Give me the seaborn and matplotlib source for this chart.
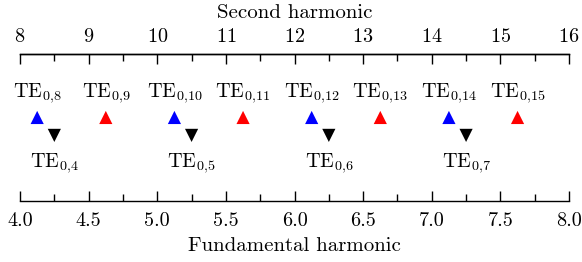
import matplotlib as mpl
import seaborn as sns
import pandas as pd
import numpy as np
plt = mpl.pyplot

# mode positions on the fundamental-harmonic scale
blue_f = [4.125, 5.125, 6.125, 7.125]
blue_lab = ['8', '10', '12', '14']
red_f = [4.625, 5.625, 6.625, 7.625]
red_lab = ['9', '11', '13', '15']
black_f = [4.25, 5.25, 6.25, 7.25]
black_lab = ['4', '5', '6', '7']

UP_Y = 0.568
DOWN_Y = 0.446

sns.set_style('white')
mpl.rcParams['font.family'] = 'cmr10'
mpl.rcParams['mathtext.fontset'] = 'cm'
mpl.rcParams['axes.formatter.use_mathtext'] = True
mpl.rcParams['font.size'] = 14
for k in ['text.color', 'axes.labelcolor', 'xtick.color', 'ytick.color', 'axes.edgecolor']:
    mpl.rcParams[k] = 'black'

df = pd.DataFrame({
    'f': blue_f + red_f + black_f,
    'y': [UP_Y] * 8 + [DOWN_Y] * 4,
    'grp': ['b'] * 4 + ['r'] * 4 + ['k'] * 4,
})

fig = plt.figure(figsize=(5.82, 2.62), dpi=100)
ax = fig.add_axes([0.0344, 0.233, 0.9433, 0.561])
sns.scatterplot(data=df, x='f', y='y', hue='grp', style='grp',
                palette={'b': '#0000ff', 'r': '#ff0000', 'k': '#000000'},
                markers={'b': '^', 'r': '^', 'k': 'v'},
                s=90, linewidth=0, legend=False, ax=ax)

for x, l in zip(blue_f + red_f, blue_lab + red_lab):
    ax.text(x, 0.707, r'$\mathrm{TE}_{0{,}%s}$' % l, ha='center', va='baseline', fontsize=14.5)
for x, l in zip(black_f, black_lab):
    ax.text(x, 0.231, r'$\mathrm{TE}_{0{,}%s}$' % l, ha='center', va='baseline', fontsize=14.5)

ax.set_xlim(4, 8)
ax.set_ylim(0, 1)
ax.set_yticks([])
ax.set_ylabel('')
ax.set_xlabel('Fundamental harmonic', labelpad=5, fontsize=15)
ax.set_xticks(np.arange(4, 8.01, 0.5))
ax.set_xticklabels(['%.1f' % v for v in np.arange(4, 8.01, 0.5)])
ax.xaxis.set_minor_locator(mpl.ticker.MultipleLocator(0.25))
ax.tick_params(axis='x', which='both', bottom=True, top=False, direction='in', width=1)
ax.tick_params(axis='x', which='major', length=7, pad=8, labelsize=14.5)
ax.tick_params(axis='x', which='minor', length=5)
for s in ['left', 'right']:
    ax.spines[s].set_visible(False)
for s in ['top', 'bottom']:
    ax.spines[s].set_linewidth(1)

top = ax.twiny()
top.set_xlim(8, 16)
top.set_xticks(np.arange(8, 17, 1))
top.xaxis.set_minor_locator(mpl.ticker.MultipleLocator(0.5))
top.tick_params(axis='x', which='both', top=True, bottom=False, direction='in', width=1)
top.tick_params(axis='x', which='major', length=7, pad=6, labelsize=14.5)
top.tick_params(axis='x', which='minor', length=5)
for s in ['left', 'right', 'bottom']:
    top.spines[s].set_visible(False)
top.spines['top'].set_linewidth(1)
top.set_xlabel('Second harmonic', labelpad=7, fontsize=15)

plt.savefig('out.png', dpi=100)
